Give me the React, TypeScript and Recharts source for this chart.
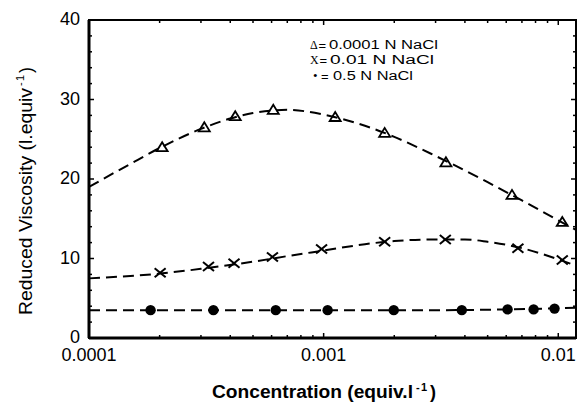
import React from 'react';
import { ComposedChart, Line, Scatter, XAxis, YAxis, ReferenceArea, Customized } from 'recharts';

// ---- data ----
const triangleX = [0.000205, 0.00031, 0.00042, 0.00061, 0.00112, 0.00182, 0.00332, 0.00635, 0.0104];
const triangleY = [24.0, 26.5, 27.9, 28.7, 27.8, 25.8, 22.1, 18.0, 14.6];

const crossX = [0.000201, 0.000323, 0.000415, 0.000605, 0.00098, 0.00182, 0.0033, 0.00673, 0.0104];
const crossY = [8.2, 9.0, 9.4, 10.2, 11.2, 12.1, 12.4, 11.3, 9.8];

const circleX = [0.000183, 0.000339, 0.000625, 0.00104, 0.00199, 0.00388, 0.00608, 0.00785, 0.00964];
const circleY = [3.5, 3.5, 3.5, 3.5, 3.5, 3.5, 3.6, 3.6, 3.7];

// dashed fitted curves
const triFitX = [0.0001, 0.00015, 0.0002, 0.0003, 0.0004, 0.0005, 0.0007, 0.001, 0.0015, 0.002, 0.003, 0.005, 0.007, 0.01, 0.0119];
const triFitY = [19.0, 21.9, 23.9, 26.3, 27.6, 28.3, 28.7, 28.1, 26.7, 25.3, 22.9, 19.6, 17.3, 14.8, 13.6];

const crossFitX = [0.0001, 0.0002, 0.0003, 0.0005, 0.0007, 0.001, 0.0015, 0.002, 0.003, 0.004, 0.005, 0.007, 0.01, 0.0119];
const crossFitY = [7.5, 8.1, 8.7, 9.6, 10.3, 11.0, 11.8, 12.2, 12.4, 12.4, 12.1, 11.3, 9.9, 9.1];

const circleFitX = [0.0001, 0.001, 0.003, 0.006, 0.009, 0.0119];
const circleFitY = [3.5, 3.5, 3.5, 3.6, 3.7, 3.8];

const X_MAJOR = [0.0001, 0.001, 0.01];
const X_LABELS = ['0.0001', '0.001', '0.01'];
const X_MINOR = [0.0002, 0.0003, 0.0004, 0.0005, 0.0006, 0.0007, 0.0008, 0.0009,
  0.002, 0.003, 0.004, 0.005, 0.006, 0.007, 0.008, 0.009];
const X_TICKS = [...X_MAJOR, ...X_MINOR];
const Y_TICKS = [0, 2, 4, 6, 8, 10, 12, 14, 16, 18, 20, 22, 24, 26, 28, 30, 32, 34, 36, 38, 40];
const Y_MAJOR = [0, 10, 20, 30, 40];
const X_MIN = 0.0001;
const X_MAX = 0.0119;
const Y_MAX = 40;

const LEGEND_SYMBOLS = ['\u0394', '\u03A7', '\u2022'];
const LEGEND_TEXTS = ['0.0001 N NaCl', '0.01 N NaCl', '0.5 N NaCl'];

const pts = (xs: number[], ys: number[]) => xs.map((x, i) => ({ x, y: ys[i] }));

const FONT = 'Liberation Sans, Arial, Helvetica, sans-serif';

const TriangleShape = (p: any) => {
  const { cx, cy } = p;
  return <path d={`M${cx},${cy - 5} L${cx + 5.5},${cy + 4} L${cx - 5.5},${cy + 4} Z`} fill="none" stroke="#000" strokeWidth={1.8} />;
};
const CrossShape = (p: any) => {
  const { cx, cy } = p;
  return (
    <g stroke="#000" strokeWidth={2}>
      <line x1={cx - 5.5} y1={cy - 4.5} x2={cx + 5.5} y2={cy + 4.5} />
      <line x1={cx - 5.5} y1={cy + 4.5} x2={cx + 5.5} y2={cy - 4.5} />
    </g>
  );
};
const CircleShape = (p: any) => {
  const { cx, cy } = p;
  return <circle cx={cx} cy={cy} r={5.2} fill="#000" />;
};
const NoShape = () => <g />;

const isMajorX = (v: number) => X_MAJOR.findIndex((m) => Math.abs(m - v) / m < 1e-6);

// inward tick on the top frame, placed through the x scale
const TopTickShape = (p: any) => {
  const { cx, cy, payload } = p;
  const v = payload ? payload.x : 0;
  const len = isMajorX(v) >= 0 ? 5 : 3;
  return <line x1={cx} x2={cx} y1={cy} y2={cy + len} stroke="#000" strokeWidth={1.5} />;
};

const BottomTick = (p: any) => {
  const { x, y, payload } = p;
  const i = isMajorX(payload.value);
  return (
    <g>
      <line x1={x} x2={x} y1={y} y2={y - (i >= 0 ? 5 : 3)} stroke="#000" strokeWidth={1.5} />
      {i >= 0 && (
        <text x={x} y={y + 23} textAnchor="middle" fontSize={18} fontFamily={FONT} fill="#000">{X_LABELS[i]}</text>
      )}
    </g>
  );
};
const LeftTick = (p: any) => {
  const { x, y, payload } = p;
  const major = Y_MAJOR.includes(payload.value);
  return (
    <g>
      <line x1={x} x2={x + (major ? 5 : 3)} y1={y} y2={y} stroke="#000" strokeWidth={1.5} />
      {major && (
        <text x={x - 9} y={y - 1} dy="0.36em" textAnchor="end" fontSize={18} fontFamily={FONT} fill="#000">{payload.value}</text>
      )}
    </g>
  );
};
const RightTick = (p: any) => {
  const { x, y, payload } = p;
  const major = Y_MAJOR.includes(payload.value);
  return <line x1={x} x2={x - (major ? 5 : 3)} y1={y} y2={y} stroke="#000" strokeWidth={1.5} />;
};

const Titles = () => (
  <g fill="#000" fontFamily={FONT}>
    {/* top edge of the frame */}
    <line x1={88} x2={577} y1={20} y2={20} stroke="#000" strokeWidth={2} />
    {/* x axis title */}
    <text x={212} y={398} fontSize={18} fontWeight="bold" textLength={201} lengthAdjust="spacingAndGlyphs">Concentration (equiv.l</text>
    <text x={416} y={391} fontSize={11} fontWeight="bold">-</text>
    <text x={421} y={391} fontSize={11} fontWeight="bold">1</text>
    <text x={430} y={398} fontSize={18} fontWeight="bold">)</text>
    {/* y axis title */}
    <g transform="rotate(-90)">
      <text x={-315} y={31.5} fontSize={18} textLength={227} lengthAdjust="spacingAndGlyphs">Reduced Viscosity (l.equiv</text>
      <text x={-86} y={24} fontSize={11}>-</text>
      <text x={-81} y={24} fontSize={11}>1</text>
      <text x={-73} y={31.5} fontSize={18}>)</text>
    </g>
    {/* legend */}
    {LEGEND_TEXTS.map((t, i) => {
      const base = [48.5, 64, 79.5][i];
      const symX = [310, 310, 313][i];
      const eqX = [318.5, 319.5, 321][i];
      const tX = [329, 330, 333][i];
      const tLen = [109, 104, 80][i];
      return (
        <g key={i}>
          <text x={symX} y={base} fontSize={i === 2 ? 13 : 12} fontFamily="Liberation Serif, Times New Roman, serif">{LEGEND_SYMBOLS[i]}</text>
          <text x={eqX} y={base + 1} fontSize={13}>=</text>
          <text x={tX} y={base} fontSize={12} textLength={tLen} lengthAdjust="spacingAndGlyphs">{t}</text>
        </g>
      );
    })}
  </g>
);

const lineProps = {
  type: 'monotone' as const,
  dataKey: 'y',
  stroke: '#000',
  strokeWidth: 2,
  strokeDasharray: '11 6',
  dot: false,
  activeDot: false,
  isAnimationActive: false,
  xAxisId: 'b',
  yAxisId: 'l',
};

export default function App() {
  return (
    <div style={{ width: 578, height: 405 }}>
      <style>{'body{margin:0;background:#fff}'}</style>
      <ComposedChart width={578} height={405} margin={{ top: 20, right: 1, bottom: 0, left: 0 }}>
        <XAxis
          xAxisId="b"
          orientation="bottom"
          type="number"
          dataKey="x"
          scale="log"
          domain={[X_MIN, X_MAX]}
          ticks={X_TICKS}
          interval={0}
          tickSize={0}
          tickMargin={0}
          tickLine={false}
          tick={<BottomTick />}
          axisLine={{ stroke: '#000', strokeWidth: 3 }}
          height={67}
        />
        <YAxis
          yAxisId="l"
          orientation="left"
          type="number"
          domain={[0, Y_MAX]}
          ticks={Y_TICKS}
          interval={0}
          tickSize={0}
          tickMargin={0}
          tickLine={false}
          tick={<LeftTick />}
          axisLine={{ stroke: '#000', strokeWidth: 3 }}
          width={89}
        />
        <YAxis
          yAxisId="r"
          orientation="right"
          type="number"
          domain={[0, Y_MAX]}
          ticks={Y_TICKS}
          interval={0}
          tickSize={0}
          tickMargin={0}
          tickLine={false}
          tick={<RightTick />}
          axisLine={{ stroke: '#000', strokeWidth: 2 }}
          width={1}
        />
        <ReferenceArea
          xAxisId="b"
          yAxisId="l"
          x1={X_MIN}
          x2={X_MAX}
          y1={0}
          y2={Y_MAX}
          fill="none"
          fillOpacity={0}
          stroke="#000"
          strokeWidth={2}
          ifOverflow="visible"
        />
        <Scatter
          xAxisId="b"
          yAxisId="l"
          dataKey="y"
          data={X_TICKS.map((v) => ({ x: v, y: Y_MAX }))}
          shape={<TopTickShape />}
          isAnimationActive={false}
          legendType="none"
          name="top ticks"
        />
        <Line {...lineProps} data={pts(triFitX, triFitY)} name="fit1" />
        <Line {...lineProps} data={pts(crossFitX, crossFitY)} name="fit2" />
        <Line {...lineProps} data={pts(circleFitX, circleFitY)} name="fit3" />
        <Scatter xAxisId="b" yAxisId="l" dataKey="y" data={pts(triangleX, triangleY)} shape={<TriangleShape />} isAnimationActive={false} name="0.0001 N NaCl" />
        <Scatter xAxisId="b" yAxisId="l" dataKey="y" data={pts(crossX, crossY)} shape={<CrossShape />} isAnimationActive={false} name="0.01 N NaCl" />
        <Scatter xAxisId="b" yAxisId="l" dataKey="y" data={pts(circleX, circleY)} shape={<CircleShape />} isAnimationActive={false} name="0.5 N NaCl" />
        <Scatter xAxisId="b" yAxisId="r" dataKey="y" data={pts(circleX, circleY)} shape={<NoShape />} isAnimationActive={false} name="frame" legendType="none" />
        <Customized component={<Titles />} />
      </ComposedChart>
    </div>
  );
}
